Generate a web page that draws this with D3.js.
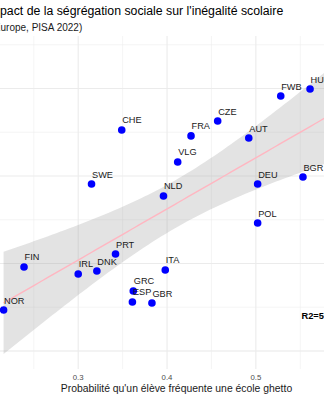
<!DOCTYPE html>
<html><head><meta charset="utf-8">
<script src="https://cdn.jsdelivr.net/npm/d3@7"></script>
<style>body{margin:0;background:#fff;overflow:hidden}svg{display:block;font-family:"Liberation Sans",Arial,sans-serif}</style>
</head><body>
<script>
// Data (pays, probabilité de fréquenter une école ghetto, inégalité scolaire)
const countries = ["CHE","SWE","FWB","HUN","CZE","FRA","AUT","VLG","BGR","DEU","NLD","POL","FIN","NOR","IRL","DNK","PRT","GRC","ESP","GBR","ITA","SVK"];
const segregation = [0.349,0.315,0.528,0.561,0.457,0.427,0.492,0.412,0.553,0.502,0.396,0.502,0.239,0.216,0.300,0.321,0.342,0.362,0.361,0.383,0.398,0.606];
const inequality = [22.63,19.54,24.57,24.97,23.14,22.29,22.17,20.80,19.94,19.54,18.86,17.31,14.80,12.34,14.40,14.57,15.54,13.43,12.80,12.74,14.63,24.11];
const xTicks = [0.2,0.3,0.4,0.5,0.6];
const xTickLabels = ["0.2","0.3","0.4","0.5","0.6"];
const yTicks = [10,15,20,25];
const xLimits = [0.1962,0.6251];
const yLimits = [8.97,28.0];
const title = "Impact de la ségrégation sociale sur l'inégalité scolaire";
const subtitle = "(Europe, PISA 2022)";
const xTitle = "Probabilité qu'un élève fréquente une école ghetto";
const r2Label = "R2=50%";
const r2Pos = [0.5513,11.85];

const W=324,H=400;
const panel={left:-14,top:36,width:381,height:333};
const svg=d3.select("body").append("svg").attr("width",W).attr("height",H);
const x=d3.scaleLinear().domain(xLimits).range([0,panel.width]);
const y=d3.scaleLinear().domain(yLimits).range([panel.height,0]);
const g=svg.append("g").attr("transform",`translate(${panel.left},${panel.top})`);

// grid
const xMinor=xTicks.slice(0,-1).map((t,i)=>(t+xTicks[i+1])/2).filter(v=>v>=xLimits[0]&&v<=xLimits[1]);
const yMinor=[7.5].concat(yTicks).map(t=>t+2.5).filter(v=>v>=yLimits[0]&&v<=yLimits[1]);
g.selectAll(".xmin").data(xMinor).join("line").attr("x1",d=>x(d)).attr("x2",d=>x(d)).attr("y1",0).attr("y2",panel.height).attr("stroke","#EEEEEE").attr("stroke-width",0.6);
g.selectAll(".ymin").data(yMinor).join("line").attr("y1",d=>y(d)).attr("y2",d=>y(d)).attr("x1",0).attr("x2",panel.width).attr("stroke","#EEEEEE").attr("stroke-width",0.6);
g.selectAll(".xmaj").data(xTicks).join("line").attr("x1",d=>x(d)).attr("x2",d=>x(d)).attr("y1",0).attr("y2",panel.height).attr("stroke","#EBEBEB").attr("stroke-width",1.1);
g.selectAll(".ymaj").data(yTicks).join("line").attr("y1",d=>y(d)).attr("y2",d=>y(d)).attr("x1",0).attr("x2",panel.width).attr("stroke","#EBEBEB").attr("stroke-width",1.1);

// linear regression with 95% CI
const n=segregation.length;
const mx=d3.mean(segregation), my=d3.mean(inequality);
let sxx=0,sxy=0;
for(let i=0;i<n;i++){sxx+=(segregation[i]-mx)**2;sxy+=(segregation[i]-mx)*(inequality[i]-my);}
const b=sxy/sxx,a=my-b*mx;
let sse=0;for(let i=0;i<n;i++){sse+=(inequality[i]-(a+b*segregation[i]))**2;}
const s=Math.sqrt(sse/(n-2));
const tq=2.086;
const [xmin,xmax]=d3.extent(segregation);
const fit=d3.range(80).map(i=>{const xv=xmin+(xmax-xmin)*i/79;const yv=a+b*xv;const se=s*Math.sqrt(1/n+(xv-mx)**2/sxx);return {x:xv,y:yv,lo:yv-tq*se,hi:yv+tq*se};});
g.append("path").datum(fit).attr("d",d3.area().x(d=>x(d.x)).y0(d=>y(d.lo)).y1(d=>y(d.hi))).attr("fill","#999999").attr("fill-opacity",0.28);
g.append("path").datum(fit).attr("d",d3.line().x(d=>x(d.x)).y(d=>y(d.y))).attr("fill","none").attr("stroke","#FFB6C1").attr("stroke-width",1.4);

// points
const pts=countries.map((c,i)=>({c,x:segregation[i],y:inequality[i]}));
g.selectAll(".pt").data(pts).join("circle").attr("cx",d=>x(d.x)).attr("cy",d=>y(d.y)).attr("r",3.8).attr("fill","#0000FF");
g.selectAll(".lb").data(pts).join("text").attr("x",d=>x(d.x)+0.5).attr("y",d=>y(d.y)-6.5).text(d=>d.c).attr("font-size",9.2).attr("fill","#1a1a1a");

// R2
g.append("text").attr("x",x(r2Pos[0])).attr("y",y(r2Pos[1])).text(r2Label).attr("font-size",9.3).attr("font-weight","bold").attr("fill","#000");

// x axis labels
g.selectAll(".xt").data(xTicks).join("text").attr("x",d=>x(d)).attr("y",panel.height+10.5).attr("text-anchor","middle").attr("font-size",7.8).attr("fill","#4D4D4D").text((d,i)=>xTickLabels[i]);
g.append("text").attr("x",panel.width/2).attr("y",panel.height+23).attr("text-anchor","middle").attr("font-size",10.4).attr("fill","#1a1a1a").text(xTitle);

// titles
svg.append("text").attr("x",-13.7).attr("y",15).attr("font-size",12.3).attr("fill","#000").text(title);
svg.append("text").attr("x",-9.5).attr("y",30.5).attr("font-size",10).attr("fill","#1a1a1a").text(subtitle);
</script>
</body></html>
